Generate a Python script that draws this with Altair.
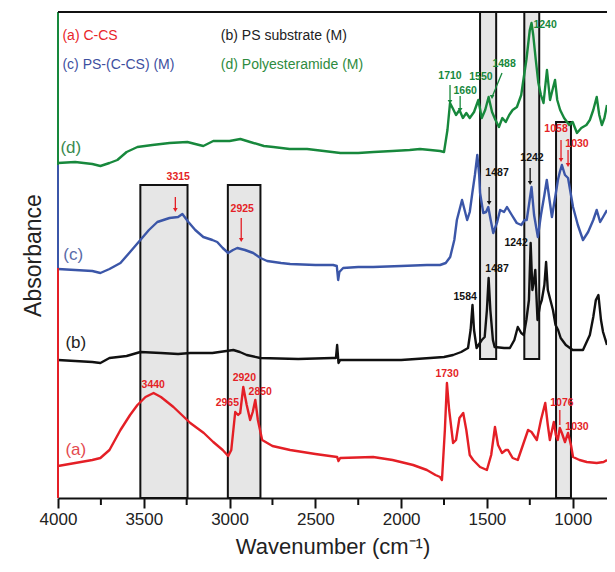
import altair as alt
import pandas as pd

# ---------------- spectra (wavenumber, offset absorbance) ----------------
wn_a = [4000, 3900, 3800, 3753, 3700, 3636, 3580, 3537, 3490, 3443, 3400, 3327, 3229, 3150, 3095, 3040, 3008, 2990,
        2967, 2950, 2938, 2920, 2900, 2880, 2865, 2850, 2835, 2810, 2750, 2647, 2500, 2373, 2365, 2355, 2163, 2050,
        1930, 1850, 1800, 1773, 1762, 1745, 1733, 1720, 1697, 1680, 1660, 1638, 1620, 1600, 1580, 1540, 1500, 1475,
        1453, 1435, 1412, 1390, 1377, 1350, 1320, 1290, 1260, 1240, 1209, 1185, 1160, 1145, 1133, 1120, 1110, 1098,
        1087, 1075, 1063, 1045, 1027, 1010, 998, 960, 918, 860, 820, 800]
abs_a = [32, 35, 38, 40, 48, 68, 83, 93, 101, 105, 101, 91, 75, 65, 56, 48, 42, 48,
         86, 83, 85, 111, 93, 78, 86, 98, 78, 58, 52, 48, 44, 41, 37, 40, 41, 38,
         33, 28, 23, 21, 18, 68, 115, 88, 55, 58, 80, 85, 68, 43, 38, 31, 28, 43,
         71, 53, 45, 48, 48, 40, 38, 53, 68, 66, 58, 78, 95, 73, 58, 68, 76, 63,
         58, 70, 65, 56, 65, 53, 41, 38, 36, 35, 36, 38]

wn_b = [4000, 3900, 3800, 3753, 3700, 3600, 3520, 3400, 3300, 3229, 3100, 2978, 2940, 2900, 2821, 2600, 2400, 2380,
        2373, 2365, 2355, 2200, 2000, 1831, 1750, 1697, 1650, 1610, 1595, 1584, 1575, 1560, 1530, 1513, 1500, 1490,
        1480, 1465, 1455, 1400, 1366, 1340, 1320, 1300, 1285, 1270, 1255, 1245, 1235, 1225, 1218, 1205, 1190, 1180,
        1165, 1155, 1145, 1130, 1115, 1100, 1085, 1070, 1040, 1000, 975, 940, 900, 880, 865, 850, 835, 823, 800]
abs_b = [138, 137, 136, 135, 140, 142, 146, 145, 144, 145, 145, 148, 146, 143, 140, 139, 140, 140,
         153, 135, 138, 138, 138, 140, 141, 143, 146, 150, 168, 193, 168, 150, 158, 161, 188, 220,
         188, 158, 151, 150, 150, 158, 171, 165, 163, 178, 198, 255, 208, 218, 228, 178, 193, 198,
         213, 236, 208, 198, 188, 173, 168, 160, 153, 148, 148, 148, 163, 181, 198, 203, 178, 166, 153]

wn_c = [4000, 3900, 3800, 3753, 3700, 3636, 3580, 3520, 3470, 3421, 3350, 3300, 3275, 3240, 3200, 3153, 3100, 3072,
        3040, 3008, 2980, 2955, 2910, 2862, 2820, 2781, 2700, 2647, 2500, 2396, 2375, 2367, 2360, 2338, 2250, 2163,
        2000, 1850, 1773, 1740, 1714, 1690, 1675, 1645, 1615, 1600, 1585, 1570, 1556, 1545, 1540, 1521, 1505, 1492,
        1478, 1463, 1440, 1423, 1400, 1383, 1355, 1326, 1300, 1280, 1268, 1255, 1240, 1225, 1203, 1185, 1165, 1151,
        1135, 1121, 1100, 1086, 1075, 1063, 1045, 1027, 1015, 998, 970, 940, 910, 880, 860, 840, 823, 800]
abs_c = [229, 228, 227, 225, 229, 235, 246, 258, 268, 276, 280, 281, 284, 276, 268, 261, 258, 256,
         250, 245, 248, 250, 248, 245, 240, 237, 235, 234, 233, 233, 232, 218, 226, 230, 231, 231,
         232, 233, 233, 235, 241, 258, 278, 298, 278, 286, 305, 323, 343, 323, 305, 285, 286, 291,
         278, 265, 276, 288, 286, 291, 283, 275, 273, 278, 278, 293, 311, 283, 261, 283, 303, 318,
         298, 281, 303, 318, 326, 333, 323, 320, 308, 291, 273, 258, 266, 278, 288, 276, 281, 288]

wn_d = [4000, 3900, 3800, 3753, 3700, 3654, 3600, 3537, 3450, 3350, 3246, 3200, 3153, 3095, 3000, 2937, 2880, 2800,
        2745, 2650, 2548, 2450, 2354, 2250, 2160, 2050, 1950, 1890, 1830, 1773, 1750, 1730, 1715, 1700, 1680, 1660,
        1640, 1620, 1600, 1575, 1550, 1530, 1510, 1490, 1470, 1450, 1430, 1410, 1390, 1370, 1350, 1325, 1300, 1290,
        1270, 1250, 1240, 1230, 1215, 1200, 1185, 1170, 1150, 1132, 1115, 1103, 1090, 1073, 1050, 1020, 1000, 975,
        950, 920, 900, 880, 860, 845, 830, 815, 800]
abs_d = [335, 336, 334, 332, 335, 338, 346, 351, 353, 355, 356, 354, 352, 357, 357, 359, 356, 352,
         351, 349, 349, 347, 345, 345, 346, 347, 348, 349, 348, 347, 346, 368, 395, 390, 383, 388,
         380, 385, 380, 386, 398, 380, 388, 401, 386, 378, 371, 380, 376, 383, 388, 391, 403, 415,
         438, 468, 475, 463, 438, 415, 403, 395, 428, 398, 410, 418, 398, 388, 380, 373, 376, 365,
         370, 373, 378, 388, 401, 383, 373, 380, 393]

series_names = ["(a) C-CS", "(b) PS substrate (M)", "(c) PS-(C-CS) (M)", "(d) Polyesteramide (M)"]
series_colors = ["#e41f26", "#111111", "#3b56a8", "#17883c"]
tag_colors = ["#e44a4f", "#222222", "#5a6aa8", "#3a8a4f"]

# ---------------- highlighted bands ----------------
box_x1 = [3520, 3010, 1540, 1282, 1097]
box_x2 = [3245, 2820, 1446, 1195, 1010]
box_y1 = [0, 0, 139, 139, 0]
box_y2 = [313, 313, 486, 486, 376]

# ---------------- peak labels ----------------
peak_text = ["1710", "1660", "1550", "1488", "1240",
             "3315", "2925", "1487", "1242", "1058", "1030",
             "1242", "1487", "1584",
             "3440", "2920", "2850", "2965", "1730", "1076", "1030"]
peak_wn = [1715, 1627, 1535, 1400, 1161,
           3299, 2926, 1441, 1237, 1097, 975,
           1330, 1441, 1627,
           3445, 2914, 2821, 3013, 1732, 1063, 975]
peak_ab = [422, 407, 421, 434, 473,
           321, 289, 325, 340, 369, 354,
           255, 229, 201,
           113, 120, 106, 95, 124, 95, 71]
peak_color = ["#17883c"] * 5 + ["#e41f26", "#e41f26", "#111111", "#111111", "#e41f26", "#e41f26"] + \
             ["#111111"] * 3 + ["#e41f26"] * 7

# ---------------- arrows ----------------
arr_wn1 = [1715, 1656, 1412, 3316, 2932, 1487, 1248, 1068, 1027, 1075]
arr_wn2 = [1715, 1656, 1470, 3316, 2932, 1487, 1248, 1068, 1027, 1075]
arr_ab1 = [413, 402, 425, 301, 280, 311, 330, 358, 348, 88]
arr_ab2 = [396, 388, 401, 288, 258, 295, 315, 338, 333, 73]
arr_color = ["#17883c", "#17883c", "#17883c", "#e41f26", "#e41f26", "#111111", "#111111",
             "#e41f26", "#e41f26", "#e41f26"]
arr_head = [True, True, True, True, True, True, True, True, True, False]

# ---------------- legend texts and trace tags ----------------
legend_text = ["(a) C-CS", "(b) PS substrate (M)", "(c) PS-(C-CS) (M)", "(d) Polyesteramide (M)"]
legend_wn = [3974, 3051, 3974, 3051]
legend_ab = [462, 462, 433, 433]
legend_color = ["#e8262a", "#222222", "#3d4fa0", "#2e8b3e"]

tag_text = ["(a)", "(b)", "(c)", "(d)"]
tag_wn = [3957, 3957, 3969, 3986]
tag_ab = [48, 155, 243, 350]

# left frame coloured segments
edge_ab1 = [486, 333, 230]
edge_ab2 = [333, 230, 0]
edge_color = ["#17883c", "#3b56a8", "#e41f26"]

minor_ticks = [3750, 3250, 2750, 2250, 1750, 1250]

# ---------------- build tables ----------------
rows = []
for name, wns, abss in zip(series_names, [wn_a, wn_b, wn_c, wn_d], [abs_a, abs_b, abs_c, abs_d]):
    for w, a in zip(wns, abss):
        rows.append({"series": name, "wn": w, "ab": a})
spec_df = pd.DataFrame(rows)

box_df = pd.DataFrame({"wn": box_x1, "wn2": box_x2, "ab": box_y1, "ab2": box_y2})
peak_df = pd.DataFrame({"wn": peak_wn, "ab": peak_ab, "text": peak_text, "color": peak_color})
arr_df = pd.DataFrame({"wn": arr_wn1, "wn2": arr_wn2, "ab": arr_ab1, "ab2": arr_ab2,
                       "color": arr_color, "head": arr_head})
head_df = arr_df[arr_df["head"]].copy()
leg_df = pd.DataFrame({"wn": legend_wn, "ab": legend_ab, "text": legend_text, "color": legend_color})
tag_df = pd.DataFrame({"wn": tag_wn, "ab": tag_ab, "text": tag_text, "color": tag_colors})
edge_df = pd.DataFrame({"wn": [4000] * 3, "ab": edge_ab1, "ab2": edge_ab2, "color": edge_color})
minor_df = pd.DataFrame({"wn": minor_ticks})

W, H = 549, 486
xs = alt.Scale(domain=[4000, 800], nice=False, zero=False)
ys = alt.Scale(domain=[0, 486], nice=False, zero=False)
xa = alt.Axis(values=[4000, 3500, 3000, 2500, 2000, 1500, 1000], format="d", grid=False,
              tickSize=10, tickWidth=2, tickColor="#111", domainWidth=2, domainColor="#111",
              labelFontSize=17, labelColor="#222", labelPadding=3, labelFlush=False,
              titleFontSize=22, titleFontWeight="normal", titleColor="#222", titlePadding=9)
ya = alt.Axis(labels=False, ticks=False, domain=False, grid=False,
              titleFontSize=23, titleFontWeight="normal", titleColor="#222", titlePadding=13)

X = alt.X("wn:Q", scale=xs, axis=xa, title="Wavenumber (cm⁻¹)")
Y = alt.Y("ab:Q", scale=ys, axis=ya, title="Absorbance")

boxes = alt.Chart(box_df).mark_rect(fill="#e6e6e6", stroke="#111", strokeWidth=2).encode(
    x=X, x2="wn2:Q", y=Y, y2="ab2:Q")

lines = alt.Chart(spec_df).mark_line(strokeWidth=2.4, strokeJoin="round").encode(
    x=X, y=Y,
    color=alt.Color("series:N", scale=alt.Scale(domain=series_names, range=series_colors), legend=None))

edges = alt.Chart(edge_df).mark_rule(strokeWidth=2).encode(
    x=X, y=Y, y2="ab2:Q", color=alt.Color("color:N", scale=None))

top_border = alt.Chart(pd.DataFrame({"k": [0]})).mark_rule(strokeWidth=2, color="#111").encode(
    x=alt.value(0), x2=alt.value(W), y=alt.value(0))

minor = alt.Chart(minor_df).mark_rule(strokeWidth=2, color="#111").encode(
    x=X, y=alt.value(H), y2=alt.value(H + 7))

arrows = alt.Chart(arr_df).mark_rule(strokeWidth=1.3).encode(
    x=X, x2="wn2:Q", y=Y, y2="ab2:Q", color=alt.Color("color:N", scale=None))

heads = alt.Chart(head_df).mark_point(shape="triangle-down", filled=True, size=22, opacity=1).encode(
    x=alt.X("wn2:Q", scale=xs, axis=xa, title="Wavenumber (cm⁻¹)"),
    y=alt.Y("ab2:Q", scale=ys, axis=ya, title="Absorbance"),
    color=alt.Color("color:N", scale=None))

peaks = alt.Chart(peak_df).mark_text(fontSize=10.5, fontWeight="bold", align="center", baseline="middle").encode(
    x=X, y=Y, text="text:N", color=alt.Color("color:N", scale=None))

legend_txt = alt.Chart(leg_df).mark_text(fontSize=14, align="left", baseline="middle").encode(
    x=X, y=Y, text="text:N", color=alt.Color("color:N", scale=None))

tags = alt.Chart(tag_df).mark_text(fontSize=17, align="left", baseline="middle").encode(
    x=X, y=Y, text="text:N", color=alt.Color("color:N", scale=None))

chart = alt.layer(boxes, lines, edges, top_border, minor, arrows, heads, peaks, legend_txt, tags).properties(
    width=W, height=H,
    autosize=alt.AutoSizeParams(type="none"),
    padding={"left": 50, "top": 4, "right": 0, "bottom": 62},
).configure(font="Liberation Sans").configure_view(stroke=None)

chart.save("out.html", embed_options={"renderer": "svg", "actions": False})
